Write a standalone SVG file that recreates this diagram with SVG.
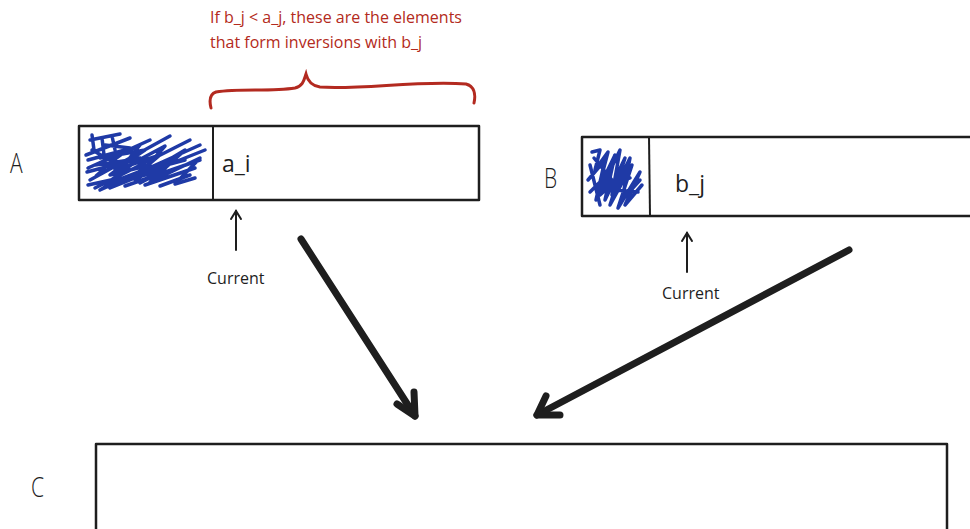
<svg xmlns="http://www.w3.org/2000/svg" width="970" height="529" viewBox="0 0 970 529">
<style>
.box{fill:#fff;stroke:#1e1e1e;stroke-width:2.5;stroke-linejoin:round}
.div{stroke:#1e1e1e;stroke-width:2}
.lbl{font-family:"Open Sans",sans-serif;fill:#1e1e1e}
.big{font-size:28px;font-weight:300}
.val{font-size:23px;font-weight:400}
.cur{font-size:16px}
.red{font-family:"Open Sans",sans-serif;font-size:16px;fill:#b32a20}
.scr{fill:none;stroke:#1f3aa6;stroke-width:3.5;stroke-linecap:round;stroke-linejoin:round}
.thin{stroke:#1e1e1e;stroke-width:2;fill:none;stroke-linecap:round}
.thick{stroke:#1e1e1e;stroke-width:7;fill:none;stroke-linecap:round;stroke-linejoin:round}
</style>
<rect width="970" height="529" fill="#fff"/>
<g id="note">
<text class="red" x="210" y="23">If b_j &lt; a_j, these are the elements</text>
<text class="red" x="210" y="48">that form inversions with b_j</text>
<path d="M211,108 C209,100 210,94 216,92 C240,88 270,92 295,88 C303,86 304,80 306,74 C308,82 312,86 320,87 C360,90 420,80 466,84 C474,86 476,94 474,103" fill="none" stroke="#b32a20" stroke-width="3" stroke-linecap="round"/>
</g>
<g id="A">
<text class="lbl big" x="10" y="173" transform="translate(10,173) scale(0.75,1) translate(-10,-173)">A</text>
<rect class="box" x="79" y="126" width="400" height="74"/>
<line class="div" x1="213" y1="126" x2="213" y2="200"/>
<path class="scr" d="M90,140 L120,134 M86,155 L130,138 M88,168 L150,140 M90,180 L170,136 M95,188 L190,140 M100,190 L200,145 M110,188 L205,150 M125,186 L200,160 M145,185 L195,168 M160,186 L190,175 M92,150 L110,160 L140,145 L120,170 L165,146 L135,180 L185,150 L150,182 L200,158 L175,184 L195,178 M87,172 L140,158 L105,185 L170,160 M88,160 L125,150 L96,176 M95,165 L130,160 L110,175 L150,165 L125,180 L165,170 L140,183 M100,158 L145,150 L115,170 L160,155 L140,172 L185,160 M105,145 L130,148 L100,170 M88,185 L120,178 L100,190 M92,135 L94,150 M102,138 L104,155 M112,136 L115,150"/>
<text class="lbl val" x="222" y="172">a_i</text>
<line class="thin" x1="236" y1="250" x2="236" y2="211"/>
<path class="thin" d="M231,219 L236,211 L241,219"/>
<text class="lbl cur" x="207" y="284">Current</text>
</g>
<g id="B">
<text class="lbl big" x="544" y="188" transform="translate(544,188) scale(0.75,1) translate(-544,-188)">B</text>
<rect class="box" x="582" y="137" width="400" height="79"/>
<line class="div" x1="649" y1="137" x2="650" y2="216"/>
<path class="scr" d="M592,152 L600,150 L595,170 L608,152 L598,190 L615,155 L605,200 L625,158 L610,205 L632,165 L618,208 L640,172 L625,205 L642,185 M590,165 L600,205 M588,180 L605,160 L596,200 L620,150 L612,195 L630,158 L622,200 L640,180 M594,158 L612,180 L600,195 L628,170 L615,190 L638,192 M590,192 L610,172 L605,188 L630,178"/>
<text class="lbl val" x="675" y="192">b_j</text>
<line class="thin" x1="687" y1="272" x2="687" y2="233"/>
<path class="thin" d="M682,241 L687,233 L692,241"/>
<text class="lbl cur" x="662" y="299">Current</text>
</g>
<g id="C">
<text class="lbl big" x="31" y="497" transform="translate(31,497) scale(0.75,1) translate(-31,-497)">C</text>
<rect class="box" x="96" y="444" width="851" height="100"/>
</g>
<g id="connectors">
<path class="thick" d="M301,239 L415,416"/>
<path class="thick" d="M397,404 L415,416 L414,392"/>
<path class="thick" d="M849,250 L537,415"/>
<path class="thick" d="M546,396 L537,415 L560,415"/>
</g>
</svg>
